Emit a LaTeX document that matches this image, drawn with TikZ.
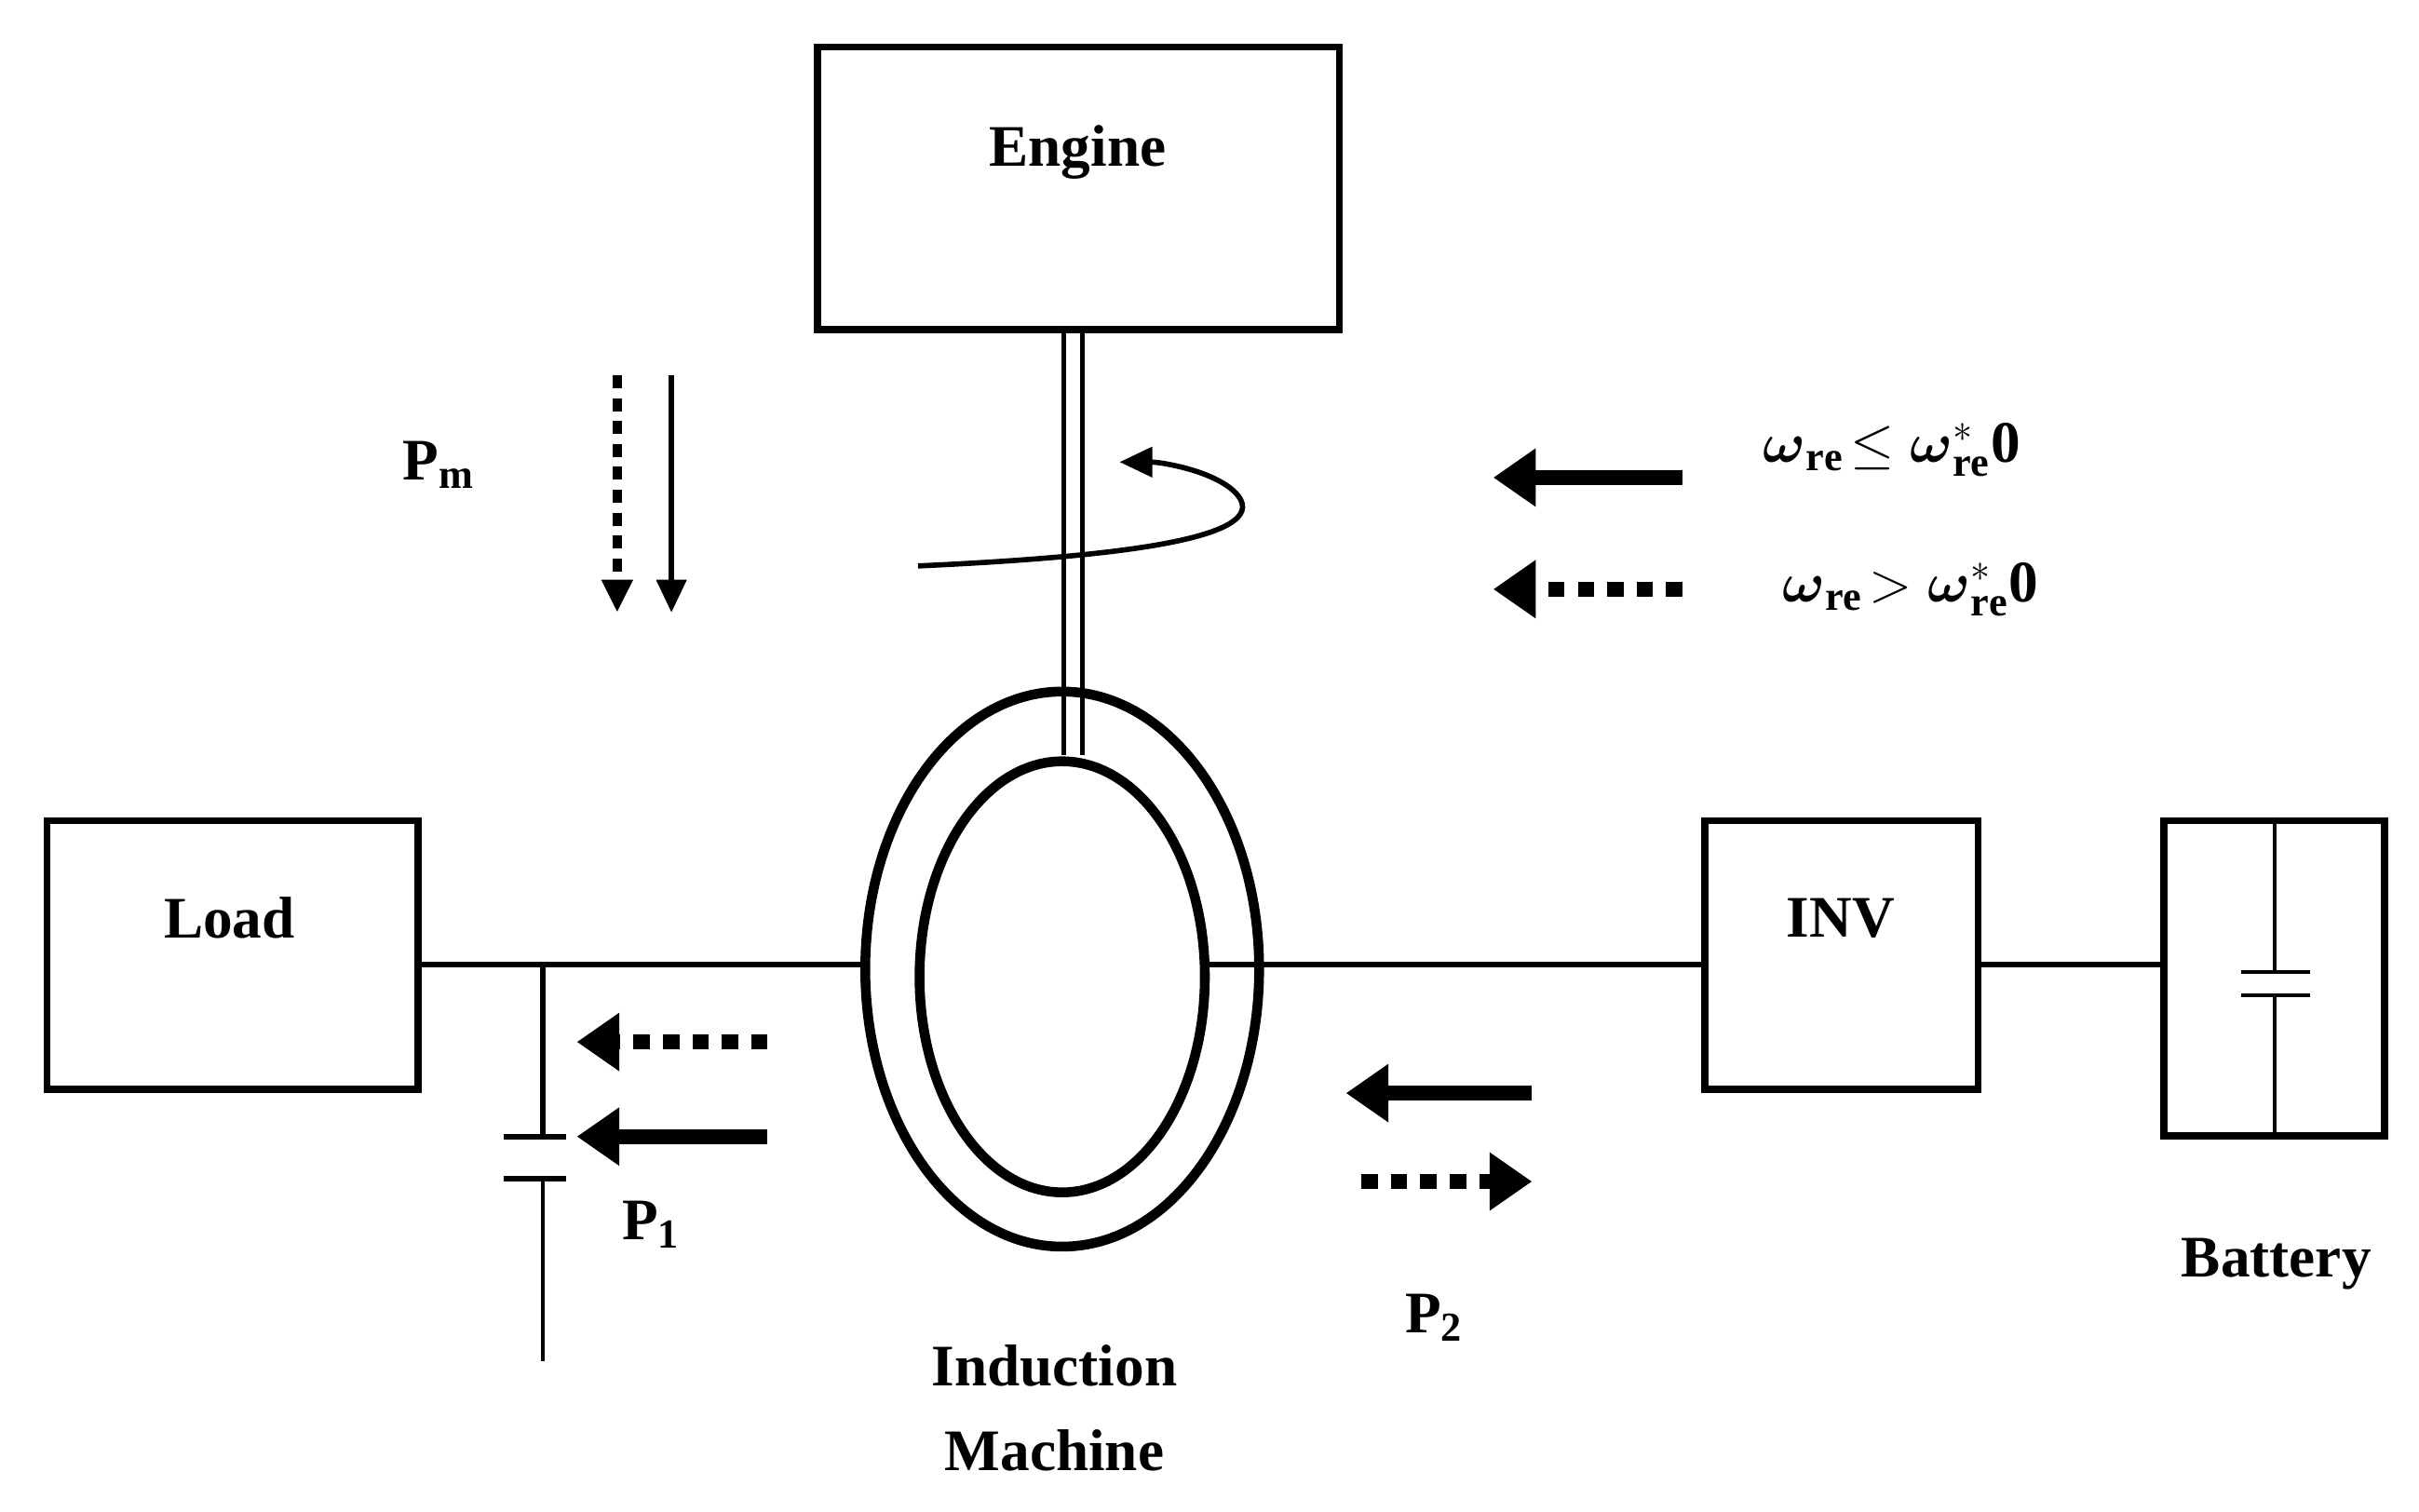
\documentclass[tikz,border=0pt]{standalone}
\usepackage{amsmath}
\usepackage{fontspec}
\setmainfont{Liberation Serif}
\usetikzlibrary{arrows.meta}
\begin{document}
\begin{tikzpicture}[x=0.0166667cm,y=-0.0166667cm,
  box/.style={draw,line width=2.2pt,outer sep=0pt},
  lbl/.style={font=\fontsize{18}{22}\selectfont\bfseries},
  wire/.style={line width=1.6pt},
  big/.style={line width=4.5pt,-{Triangle[length=13pt,width=17pt]}},
  bigdot/.style={big,dash pattern=on 5pt off 4pt},
  thin/.style={line width=1.6pt,-{Triangle[length=10pt,width=9pt]}},
  thindot/.style={thin,line width=3pt,dash pattern=on 4pt off 3pt}]
\useasboundingbox (0,0) rectangle (1560,975);
\node[box,minimum width=341*0.0166667cm-2.2pt,minimum height=187*0.0166667cm-2.2pt] (eng) at (695.5,121.5) {};
\node[lbl] at (695,98) {Engine};
\node[box,minimum width=244*0.0166667cm-2.2pt,minimum height=178*0.0166667cm-2.2pt] (load) at (150,616) {};
\node[lbl] at (148,592) {Load};
\node[box,minimum width=181*0.0166667cm-2.2pt,minimum height=178*0.0166667cm-2.2pt] (inv) at (1187.5,616) {};
\node[lbl] at (1187,592) {INV};
\node[box,minimum width=147*0.0166667cm-2.2pt,minimum height=208*0.0166667cm-2.2pt] (bat) at (1466.5,631) {};
\node[lbl] at (1468,815) {Battery};
% machine
\draw[line width=3pt] (685,625) ellipse [x radius=127,y radius=179];
\draw[line width=3pt] (685,630) ellipse [x radius=92,y radius=139];
\coordinate (mR) at (780,622);
\coordinate (mL) at (557,622);
\node[lbl,align=center] at (680,908) {Induction\\[4pt]Machine};
% shaft
\draw[line width=1.2pt] (686,215) -- (686,487) (698,215) -- (698,487);
\draw[line width=1.6pt,-{Triangle[length=10pt,width=9pt]}] (592,365) .. controls (700,360) and (815,350) .. (800,322) .. controls (790,305) and (750,298) .. (722,298);
% wires
\draw[wire] (load.east |- 0,622) -- (mL);
\draw[wire] (mR) -- (inv.west |- 0,622);
\draw[wire] (inv.east |- 0,622) -- (bat.west |- 0,622);
% load capacitor
\coordinate (c1) at (350,622);
\draw[wire] (c1) -- (350,733) (325,733) -- (365,733) (325,760) -- (365,760);
\draw[line width=1pt] (350,760) -- (350,878);
% battery capacitor
\draw[line width=1.2pt] (1467,527) -- (1467,627) (1445,627) -- (1490,627) (1445,642) -- (1490,642) (1467,642) -- (1467,735);
% arrows
\draw[bigdot] (495,672) -- (372,672);
\draw[big] (495,733) -- (372,733);
\node[lbl] at (420,790) {P$_{\mathbf 1}$};
\draw[big] (988,705) -- (868,705);
\draw[bigdot] (878,762) -- (988,762);
\node[lbl] at (925,850) {P$_{\mathbf 2}$};
\draw[thindot] (398,242) -- (398,395);
\draw[thin] (433,242) -- (433,395);
\node[lbl] at (283,300) {P$_{\mathbf{m}}$};
\draw[big] (1085,308) -- (963,308);
\draw[bigdot] (1085,380) -- (963,380);
\node[lbl] at (1220,290) {$\boldsymbol\omega_{\mathbf{re}}\!\leq\boldsymbol\omega^*_{\mathbf{re}}$0};
\node[lbl] at (1232,380) {$\boldsymbol\omega_{\mathbf{re}}\!>\boldsymbol\omega^*_{\mathbf{re}}$0};
\end{tikzpicture}
\end{document}
